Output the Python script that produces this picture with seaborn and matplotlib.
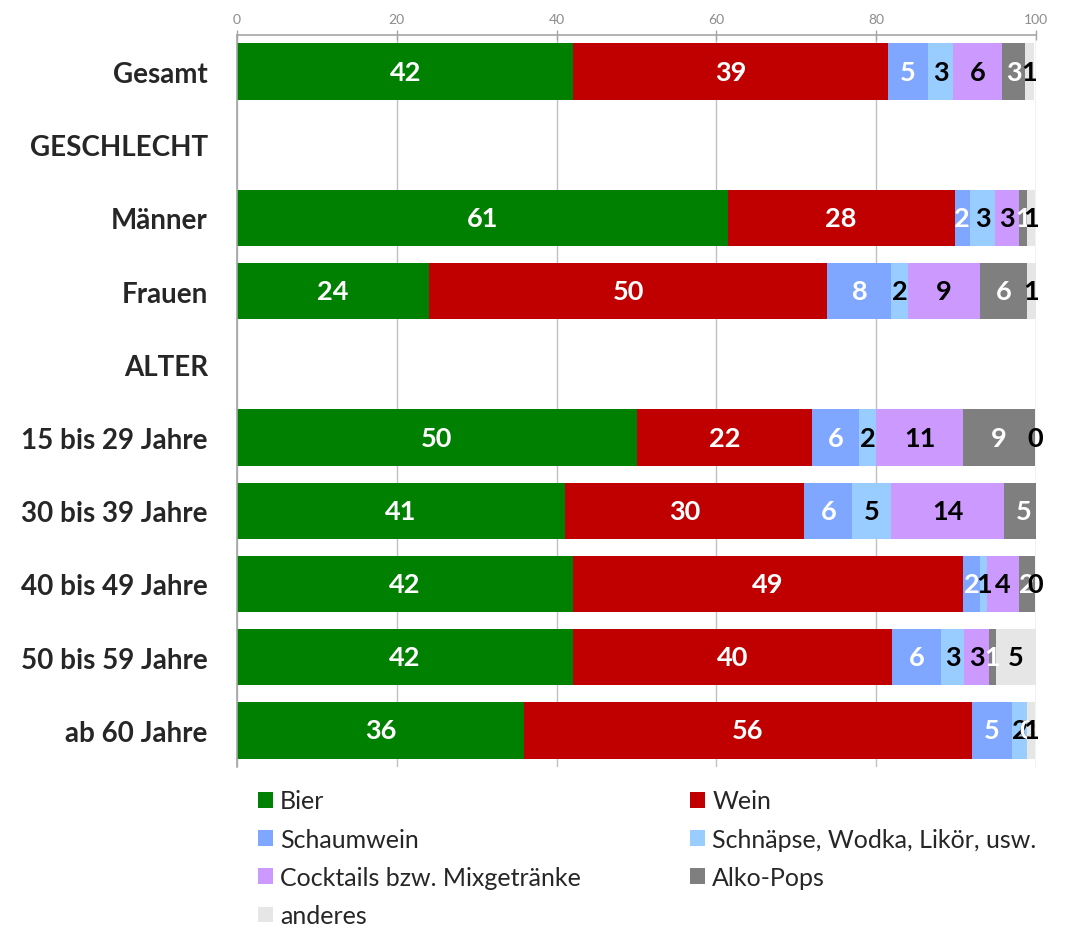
"""
Gestapelte Balken: bevorzugte alkoholische Getraenke nach Gruppe (Anteile in %).
"""
import numpy as np
import pandas as pd
import matplotlib.pyplot as plt
from matplotlib.patches import Patch
import seaborn as sns

ROWS = ["Gesamt", "GESCHLECHT", "Männer", "Frauen", "ALTER",
        "15 bis 29 Jahre", "30 bis 39 Jahre", "40 bis 49 Jahre",
        "50 bis 59 Jahre", "ab 60 Jahre"]
GROUPS = ["Gesamt", "Männer", "Frauen", "15 bis 29 Jahre", "30 bis 39 Jahre",
          "40 bis 49 Jahre", "50 bis 59 Jahre", "ab 60 Jahre"]
SERIES = ["Bier", "Wein", "Schaumwein", "Schnäpse, Wodka, Likör, usw.",
          "Cocktails bzw. Mixgetränke", "Alko-Pops", "anderes"]

BIER       = [42.1, 61.4, 24.0, 50.0, 41.0, 42.0, 42.0, 35.9]
WEIN       = [39.4, 28.4, 49.9, 22.0, 30.0, 48.9, 40.0, 56.1]
SCHAUMWEIN = [5.0, 1.9, 8.0, 5.9, 6.0, 2.1, 6.1, 5.0]
SCHNAEPSE  = [3.1, 3.2, 2.1, 2.1, 4.9, 0.9, 2.9, 1.9]
COCKTAILS  = [6.2, 3.0, 9.0, 10.9, 14.1, 4.0, 3.1, 0.0]
ALKOPOPS   = [2.8, 1.0, 5.9, 9.0, 5.0, 2.0, 0.9, 0.0]
ANDERES    = [1.2, 1.0, 1.1, 0.0, 0.0, 0.0, 5.0, 1.0]

COLORS     = ["#008000", "#C00000", "#7FA7FF", "#99CCFF", "#CC99FF", "#7F7F7F", "#E6E6E6"]
TEXT_COLS  = ["white", "white", "white", "black", "black", "white", "black"]

sns.set_style("white")
plt.rcParams["font.family"] = ["Lato", "DejaVu Sans"]

values = [BIER, WEIN, SCHAUMWEIN, SCHNAEPSE, COCKTAILS, ALKOPOPS, ANDERES]
df = pd.DataFrame(dict(zip(SERIES, values)), index=GROUPS)
cum = df.cumsum(axis=1)
left = cum - df

fig = plt.figure(figsize=(10.7, 9.29), dpi=100)
ax = fig.add_axes([237 / 1070, 1 - 768 / 929, (1036 - 237) / 1070, (768 - 36) / 929])

# stacked bars: draw the running totals from the largest down
for name, color in reversed(list(zip(SERIES, COLORS))):
    sns.barplot(x=cum[name].values, y=GROUPS, order=ROWS, orient="y",
                color=color, saturation=1, width=0.77, errorbar=None,
                linewidth=0, ax=ax)

# value labels
for name, tcol in zip(SERIES, TEXT_COLS):
    for g in GROUPS:
        v = df.loc[g, name]
        xc = left.loc[g, name] + v / 2
        if xc > 100:
            continue
        ax.text(xc, ROWS.index(g), f"{v:.0f}", ha="center", va="center",
                color=tcol, fontsize=19.5, fontweight="bold")

ax.set_xlim(0, 100)
ax.set_ylim(len(ROWS) - 0.5, -0.5)
ax.set_xlabel("")
ax.set_ylabel("")

ax.xaxis.tick_top()
ax.set_xticks(np.arange(0, 101, 20))
ax.tick_params(axis="x", colors="#A6A6A6", labelsize=10, direction="inout",
               length=7, width=1, pad=4)
for lbl in ax.get_xticklabels():
    lbl.set_color("#8C8C8C")

ax.set_yticks(range(len(ROWS)))
ax.set_yticklabels(ROWS, fontsize=20, fontweight="bold")
ax.tick_params(axis="y", which="major", length=0, pad=21)
ax.set_yticks(np.arange(-0.5, len(ROWS), 1), minor=True)
ax.tick_params(axis="y", which="minor", length=5, color="#A6A6A6", width=1)

ax.grid(axis="x", color="#C0C0C0", linewidth=1)
ax.set_axisbelow(True)
for side in ["right", "bottom"]:
    ax.spines[side].set_visible(False)
for side in ["top", "left"]:
    ax.spines[side].set_color("#A6A6A6")
    ax.spines[side].set_linewidth(1.2)

# legend in row-major order (Excel style)
handles = [Patch(facecolor=c, edgecolor="none", label=s) for s, c in zip(SERIES, COLORS)]
order = [0, 2, 4, 6, 1, 3, 5]
fig.legend([handles[i] for i in order], [SERIES[i] for i in order],
           ncol=2, loc="upper left", bbox_to_anchor=(245 / 1070, 1 - 778 / 929),
           frameon=False, fontsize=18, handlelength=0.6, handleheight=0.6,
           handletextpad=0.3, labelspacing=0.61, columnspacing=4.35, borderpad=0)

fig.savefig("out.png", dpi=100)
